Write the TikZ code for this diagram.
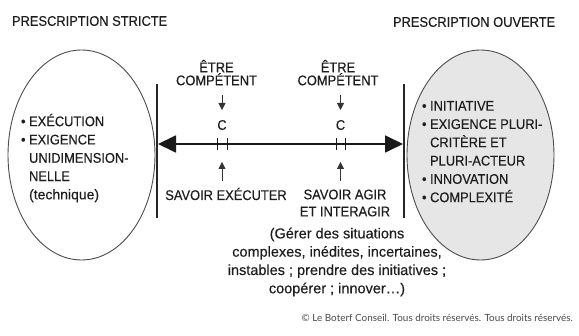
\documentclass[tikz,border=0pt]{standalone}
\usepackage{fontspec}
\setmainfont{Liberation Sans}[FakeStretch=0.92,FakeBold=0.3]
\newfontfamily\lowfont{Liberation Sans}[FakeBold=0.3]
\newfontfamily\copyfont{Lato}
\usetikzlibrary{arrows.meta,shapes.geometric}
\definecolor{ellgray}{HTML}{E6E6E6}
\definecolor{txtcol}{HTML}{1E1E1E}
\definecolor{copycol}{HTML}{4A4A4A}
\begin{document}
\begin{tikzpicture}[x=1pt,y=-1pt,
  every node/.style={inner sep=0pt, outer sep=0pt, text=txtcol},
  lbl/.style={font=\fontsize{14}{18}\selectfont},
  ttl/.style={font=\fontsize{14}{18}\selectfont, anchor=west},
  bullets/.style={font=\fontsize{14}{18.3}\selectfont, align=left, anchor=north west},
  stacked/.style={font=\fontsize{14}{13}\selectfont, align=center, anchor=north},
  ell/.style={draw=black!70, line width=0.9pt, ellipse, minimum width=147pt, minimum height=210pt},
  barline/.style={draw=black!85, line width=1.8pt},
  mainarrow/.style={draw=black!90, line width=1.8pt, {Triangle[length=18pt,width=17pt]}-{Triangle[length=18pt,width=17pt]}},
  smallarrow/.style={draw=black!80, line width=0.8pt, -{Triangle[length=7pt,width=7pt]}},
  tick/.style={draw=black!90, line width=0.9pt}
]
\useasboundingbox (0,0) rectangle (579,336);
\fill[white] (0,0) rectangle (579,336);

% titles
\node[ttl] (titleL) at (12,21) {PRESCRIPTION STRICTE};
\node[ttl] (titleR) at (393,22) {PRESCRIPTION OUVERTE};

% ellipses
\node[ell] (ellL) at (81.5,155) {};
\node[ell, fill=ellgray] (ellR) at (480.5,155) {};

% ellipse texts
\node[bullets] (txtL) at (21,114) {\textbullet\ EXÉCUTION\\ \textbullet\ EXIGENCE\\ \hphantom{\textbullet\ }UNIDIMENSION-\\ \hphantom{\textbullet\ }NELLE\\ \hphantom{\textbullet\ }{\lowfont(technique)}};
\node[bullets] (txtR) at (422,101) {\textbullet\ INITIATIVE\\ \textbullet\ EXIGENCE PLURI-\\ \hphantom{\textbullet\ }CRITÈRE ET\\ \hphantom{\textbullet\ }PLURI-ACTEUR\\ \textbullet\ INNOVATION\\ \textbullet\ COMPLEXITÉ};

% vertical bars
\coordinate (barLt) at (157,84);
\coordinate (barLb) at (157,218);
\coordinate (barRt) at (404,84);
\coordinate (barRb) at (404,218);
\draw[barline] (barLt) -- (barLb);
\draw[barline] (barRt) -- (barRb);

% main arrow
\coordinate (axL) at (158,144);
\coordinate (axR) at (403,144);
\draw[mainarrow] (axL) -- (axR);

% ticks
\foreach \x/\n in {217/a,227/b,336/c,345/d}{
  \coordinate (tk\n t) at (\x,138);
  \coordinate (tk\n b) at (\x,150);
  \draw[tick] (tk\n t) -- (tk\n b);
}

% C labels
\node[lbl] (cL) at (222,125) {C};
\node[lbl] (cR) at (340.5,125) {C};

% etre competent
\node[stacked] (etreL) at (216.5,60) {ÊTRE\\COMPÉTENT};
\node[stacked] (etreR) at (338,60) {ÊTRE\\COMPÉTENT};

% small arrows
\coordinate (dLs) at (222,95);
\coordinate (dLe) at (222,110);
\coordinate (dRs) at (340.5,95);
\coordinate (dRe) at (340.5,110);
\draw[smallarrow] (dLs) -- (dLe);
\draw[smallarrow] (dRs) -- (dRe);
\coordinate (uLs) at (222,181);
\coordinate (uLe) at (222,162);
\coordinate (uRs) at (340.5,181);
\coordinate (uRe) at (340.5,162);
\draw[smallarrow] (uLs) -- (uLe);
\draw[smallarrow] (uRs) -- (uRe);

% bottom labels
\node[lbl] (savexe) at (226,194) {SAVOIR EXÉCUTER};
\node[font=\fontsize{14}{17}\selectfont, align=center] (savagir) at (345,203) {SAVOIR AGIR\\ET INTERAGIR};
\node[font=\lowfont\fontsize{14.5}{18.3}\selectfont, align=center] (gerer) at (337,262) {(Gérer des situations\\complexes, inédites, incertaines,\\instables ; prendre des initiatives ;\\coopérer ; innover\dots)};

% copyright
\node[font=\copyfont\fontsize{9.9}{12}\selectfont, text=copycol, anchor=east] (copy) at (573,318) {© Le Boterf Conseil. Tous droits réservés. Tous droits réservés.};
\end{tikzpicture}
\end{document}
